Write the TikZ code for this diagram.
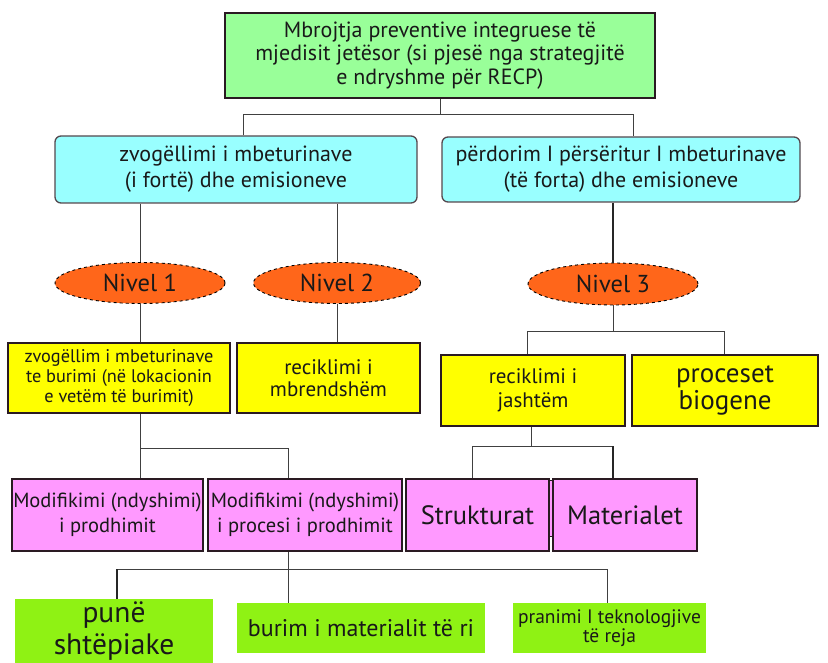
\documentclass[tikz,border=0pt]{standalone}
\usepackage{fontspec}
\setmainfont{PT Sans}
\usetikzlibrary{shapes.geometric}
\definecolor{topgreen}{HTML}{99FF99}
\definecolor{lightcyan}{HTML}{99FFFF}
\definecolor{nivorange}{HTML}{FF661A}
\definecolor{boxyellow}{HTML}{FFFF00}
\definecolor{boxpink}{HTML}{FF99FF}
\definecolor{lime}{HTML}{8FF214}
\definecolor{edge}{HTML}{2A1A22}
\newcommand{\fs}[2]{\fontsize{#1}{#2}\selectfont}
\tikzset{
  x=1pt, y=-1pt,
  box/.style={rectangle, align=center, inner sep=0pt, text=black!90},
  topbox/.style={box, draw=edge, line width=1.8pt, fill=topgreen},
  cyanbox/.style={box, draw=edge!80, line width=1.3pt, fill=lightcyan, rounded corners=6pt},
  nivel/.style={ellipse, draw=black, dashed, line width=0.9pt, fill=nivorange, inner sep=0pt, text=black!90, font=\fs{24.5}{26}},
  yelbox/.style={box, draw=edge, line width=1.8pt, fill=boxyellow},
  pinkbox/.style={box, draw=edge, line width=2.2pt, fill=boxpink},
  limebox/.style={box, fill=lime},
  conn/.style={draw=black!75, line width=1pt},
  thickconn/.style={draw=black!85, line width=2pt},
}
\begin{document}
\begin{tikzpicture}
\useasboundingbox (0,0) rectangle (828,663);
% nodes
\node[topbox, minimum width=430, minimum height=85, font=\fs{22}{23.5}] (top) at (440,55.5)
  {Mbrojtja preventive integruese të\\mjedisit jetësor (si pjesë nga strategjitë\\e ndryshme për RECP)};
\node[cyanbox, minimum width=362, minimum height=67, font=\fs{22}{26}] (cyanL) at (236,169.5)
  {zvogëllimi i mbeturinave\\(i fortë) dhe emisioneve};
\node[cyanbox, minimum width=358, minimum height=65, font=\fs{22}{26}] (cyanR) at (621,169.5)
  {përdorim I përsëritur I mbeturinave\\(të forta) dhe emisioneve};
\node[nivel, minimum width=170, minimum height=41] (n1) at (140,283) {Nivel 1};
\node[nivel, minimum width=167, minimum height=41] (n2) at (337,283) {Nivel 2};
\node[nivel, minimum width=170, minimum height=42] (n3) at (613,284) {Nivel 3};
\node[yelbox, minimum width=222, minimum height=70, font=\fs{18.3}{20}] (yL) at (119,378)
  {zvogëllim i mbeturinave\\te burimi (në lokacionin\\e vetëm të burimit)};
\node[yelbox, minimum width=183, minimum height=70, font=\fs{21}{22.5}] (yM) at (328.5,378)
  {reciklimi i\\mbrendshëm};
\node[yelbox, minimum width=184, minimum height=71, font=\fs{21}{23.5}] (yR1) at (533,390.5)
  {reciklimi i\\jashtëm};
\node[yelbox, minimum width=186, minimum height=71, font=\fs{27}{27}] (yR2) at (725,390.5)
  {proceset\\biogene};
\node[pinkbox, minimum width=191, minimum height=72, font=\fs{20.5}{25}] (p1) at (107.5,515)
  {Modifikimi (ndyshimi)\\i prodhimit};
\node[pinkbox, minimum width=194, minimum height=72, font=\fs{20.5}{25}] (p2) at (305,515)
  {Modifikimi (ndyshimi)\\i procesi i prodhimit};
\node[pinkbox, minimum width=143, minimum height=72, font=\fs{26.5}{28}] (p3) at (477.5,515)
  {Strukturat};
\node[pinkbox, minimum width=144, minimum height=72, font=\fs{26.5}{28}] (p4) at (625,515)
  {Materialet};
\node[box, draw=edge, line width=0.9pt, fill=boxpink, minimum width=3.5, minimum height=56] (bar) at (551,508) {};
\node[limebox, minimum width=198, minimum height=64, font=\fs{29.5}{32}] (g1) at (114,631)
  {punë\\shtëpiake};
\node[limebox, minimum width=248, minimum height=50, font=\fs{24}{26}] (g2) at (361,628)
  {burim i materialit të ri};
\node[limebox, minimum width=193, minimum height=50, font=\fs{19.5}{18.5}] (g3) at (609.5,628)
  {pranimi I teknologjive\\të reja};
% junction coordinates
\coordinate (j1) at (440,115);
\coordinate (a1) at (243,115);
\coordinate (a2) at (633,115);
\coordinate (b0) at (613,332);
\coordinate (b1) at (527,332);
\coordinate (b2) at (724,332);
\coordinate (c1) at (140,448);
\coordinate (c2) at (288,448);
\coordinate (d0) at (531,446);
\coordinate (d1) at (472,446);
\coordinate (d2) at (613,446);
\coordinate (e0) at (288,569);
\coordinate (e1) at (117,569);
\coordinate (e2) at (607,569);
% connectors
\draw[conn] (top.south) -- (j1);
\draw[conn] (cyanL.north -| a1) -- (a1) -- (a2) -- (cyanR.north -| a2);
\draw[conn] (cyanL.south -| n1.north) -- (n1.north);
\draw[conn] (cyanL.south -| n2.north) -- (n2.north);
\draw[thickconn] (cyanR.south -| n3.north) -- (n3.north);
\draw[conn] (n1.south) -- (n1.south |- yL.north);
\draw[conn] (n2.south) -- (n2.south |- yM.north);
\draw[conn] (n3.south) -- (b0);
\draw[conn] (yR1.north -| b1) -- (b1) -- (b2) -- (yR2.north -| b2);
\draw[conn] (yL.south -| c1) -- (c1) -- (c2) -- (p2.north -| c2);
\draw[conn] (c1) -- (p1.north -| c1);
\draw[conn] (yR1.south -| d0) -- (d0);
\draw[conn] (p3.north -| d1) -- (d1) -- (d2);
\draw[thickconn] (d2) -- (p4.north -| d2);
\draw[conn] (p2.south -| e0) -- (g2.north -| e0);
\draw[conn] (e1) -- (e2) -- (g3.north -| e2);
\draw[thickconn] (e1) -- (g1.north -| e1);
\end{tikzpicture}
\end{document}
